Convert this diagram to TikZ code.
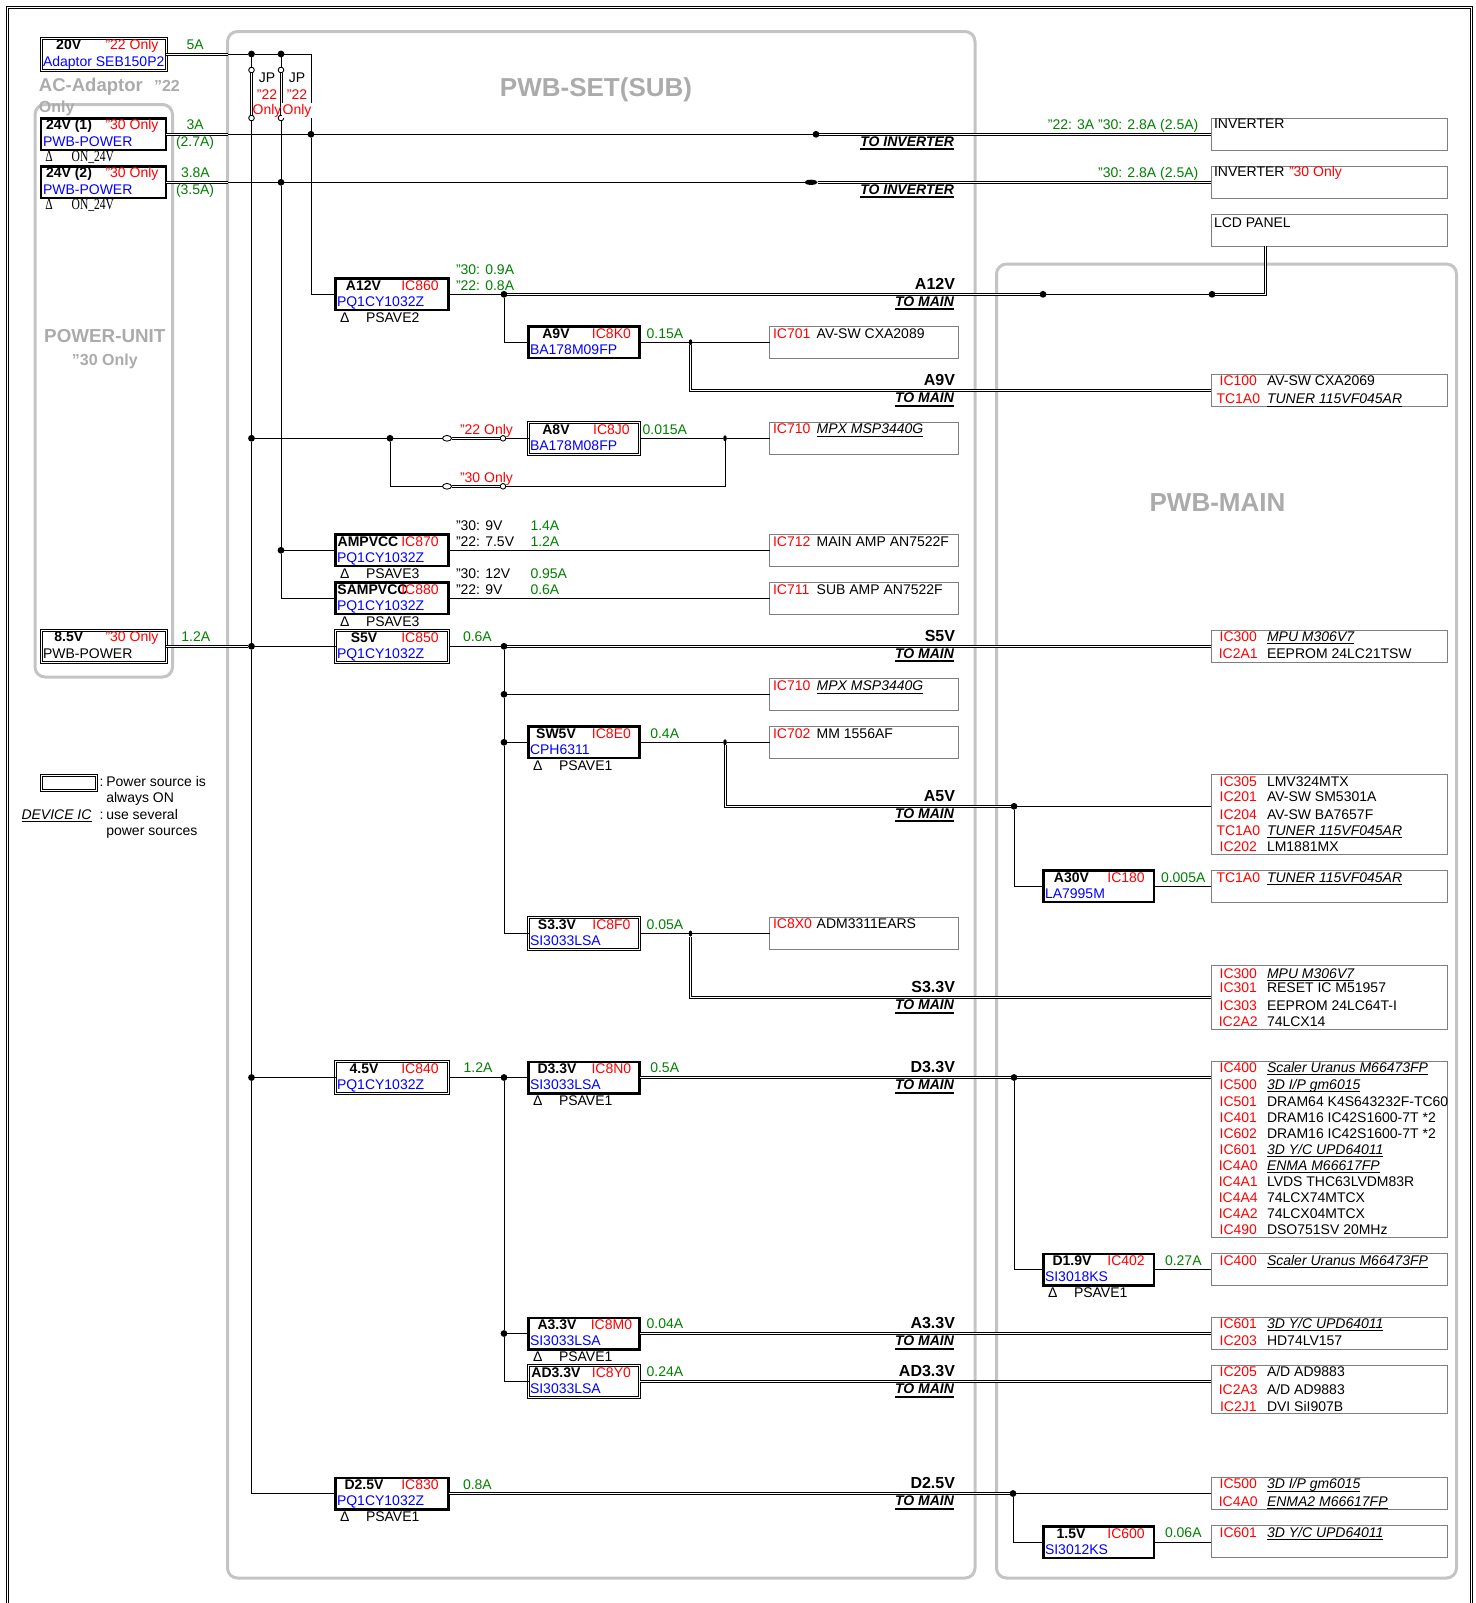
\documentclass[tikz,border=0pt]{standalone}
\usepackage{fontspec}
\usepackage{graphicx}
\usetikzlibrary{shapes.geometric}
\setmainfont{Liberation Sans}
\newfontfamily\onfont[FakeStretch=0.74]{Liberation Serif}
\definecolor{sgreen}{HTML}{008000}
\definecolor{panelgray}{HTML}{C4C4C4}
\definecolor{titlegray}{HTML}{ABABAB}
\definecolor{devgray}{HTML}{7F7F7F}
\newcount\txtc
\newcommand{\Txt}[4][]{\global\advance\txtc by 1 \node[lbl,#1] (t\the\txtc) at (#2,#3) {#4};}
\newcommand{\ux}[1]{\setbox0=\hbox{\itshape #1}\rlap{\rule[-1.5pt]{\wd0}{.5pt}}\box0}
\newcommand{\ubx}[1]{\setbox0=\hbox{\bfseries\itshape #1}\rlap{\rule[-2pt]{\wd0}{1pt}}\box0}
% #1 style, #2 name, #3 x, #4 w, #5 top, #6 volt, #7 volt centre offset, #8 ic, #9 part
\newcommand{\Reg}[9]{%
  \node[#1,minimum width=(#4-1)*.5pt] (#2) at ({#3+#4/2},{#5+16}) {};
  \Txt[ctr,bvolt]{{#3+#7}}{{#5+12}}{#6}
  \Txt[ctr,red]{{#3+#4*.745}}{{#5+12}}{#8}
  \Txt[blue]{{#3+2}}{{#5+28.3}}{#9}}
\newcommand{\Ps}[3]{%
  \Txt{{#1+5}}{{#2+44}}{Δ}
  \Txt{{#1+31}}{{#2+44}}{#3}}
\newcommand{\Dev}[5]{\node[devbox,minimum width=#3*.5pt,minimum height=#5*.5pt] (#1) at ({#2+#3/2},{#4+#5/2}) {};}
\newcommand{\RR}[3]{\Txt[ctr,red]{1238.3}{#1}{#2}\Txt{1267}{#1}{#3}}
\newcommand{\MR}[3]{\Txt[red]{773}{#1}{#2}\Txt{816.7}{#1}{#3}}
\newcommand{\Rail}[2]{%
  \Txt[anchor=base east,font=\fontsize{8}{9}\selectfont\bfseries]{955}{{#1-5}}{#2}
  \Txt[anchor=base east]{954}{{#1+12}}{\ubx{TO MAIN}}}
\newcommand{\OnLbl}[1]{%
  \Txt[font=\fontsize{7.8}{8}\selectfont\onfont]{45.5}{#1}{Δ}
  \Txt[font=\fontsize{7.8}{8}\selectfont\onfont]{71.7}{#1}{ON\_24V}}
\tikzset{
  lbl/.style={anchor=base west,inner sep=0pt,outer sep=0pt,font=\fontsize{7}{8}\selectfont},
  ctr/.style={anchor=base},
  bvolt/.style={font=\fontsize{7}{8}\selectfont\bfseries},
  gn/.style={text=sgreen},
  regbase/.style={rectangle,inner sep=0pt,outer sep=0pt},
  rega/.style={regbase,draw=black,line width=1.25pt,minimum height=15.75pt},
  regb/.style={regbase,draw=black,line width=.5pt,double=white,double distance=.5pt,minimum height=16pt},
  devbox/.style={rectangle,inner sep=0pt,outer sep=0pt,draw=devgray,line width=.65pt},
  panel/.style={draw=panelgray,line width=1.5pt,rounded corners=5pt},
  wire/.style={draw=black,line width=.5pt},
  dbl/.style={draw=black,line width=.5pt,double=white,double distance=.5pt},
  dotn/.style={circle,fill=black,inner sep=0pt,outer sep=0pt,minimum size=3.4pt},
  dots/.style={ellipse,fill=black,inner sep=0pt,outer sep=0pt,minimum width=1.8pt,minimum height=3pt},
  dotw/.style={ellipse,fill=black,inner sep=0pt,outer sep=0pt,minimum width=6.5pt,minimum height=2.6pt},
  ocirc/.style={circle,draw=black,fill=white,line width=.45pt,inner sep=0pt,outer sep=0pt,minimum size=2.8pt},
  ooval/.style={ellipse,draw=black,fill=white,line width=.45pt,inner sep=0pt,outer sep=0pt,minimum width=4.5pt,minimum height=2.8pt},
  gtitle/.style={text=titlegray},
}
\begin{document}
\begin{tikzpicture}[x=.5pt,y=-.5pt]
\useasboundingbox (0,0) rectangle (1476,1603);
% outer frame
\coordinate (fa) at (7.5,1603);\coordinate (fb) at (7.5,7.3);\coordinate (fc) at (1471,7.3);\coordinate (fd) at (1471,1603);
\draw[dbl] (fa) -- (fb) -- (fc) -- (fd);
% panels
\draw[panel] (227.5,31.5) rectangle (975,1578);
\draw[panel] (996.5,264) rectangle (1456.5,1578);
\draw[panel] (35,104.5) rectangle (172.5,677);
% panel titles
\Txt[ctr,gtitle,font=\fontsize{13}{14}\selectfont\bfseries]{596}{96}{PWB-SET(SUB)}
\Txt[ctr,gtitle,font=\fontsize{13}{14}\selectfont\bfseries]{1217.5}{511}{PWB-MAIN}
\Txt[ctr,gtitle,font=\fontsize{9.4}{10}\selectfont\bfseries]{104.8}{342}{POWER-UNIT}
\Txt[ctr,gtitle,font=\fontsize{8}{9}\selectfont\bfseries]{104.8}{365}{"30 Only}
\Txt[gtitle,font=\fontsize{9.25}{10}\selectfont\bfseries]{39}{91.7}{AC-Adaptor}
\Txt[gtitle,font=\fontsize{8}{9}\selectfont\bfseries]{154}{91.7}{"22}
\Txt[gtitle,font=\fontsize{8}{9}\selectfont\bfseries]{39}{112.7}{Only}
% sources
\node[regb,minimum width=62.5pt] (src20) at (103.5,54) {};
\Txt[ctr,bvolt]{68.7}{49}{20V}\Txt[ctr,red]{132}{49}{"22 Only}\Txt[blue]{43}{66}{Adaptor SEB150P2}
\node[rega,minimum width=62.5pt] (srca) at (103.5,134.3) {};
\Txt[ctr,bvolt]{69}{129}{24V (1)}\Txt[ctr,red]{132}{129}{"30 Only}\Txt[blue]{43}{146}{PWB-POWER}
\OnLbl{161.7}
\node[rega,minimum width=62.5pt] (srcb) at (103.5,182.3) {};
\Txt[ctr,bvolt]{69}{177}{24V (2)}\Txt[ctr,red]{132}{177}{"30 Only}\Txt[blue]{43}{194}{PWB-POWER}
\OnLbl{209.7}
\node[regb,minimum width=62.5pt] (srcc) at (103.5,646.3) {};
\Txt[ctr,bvolt]{68.8}{641}{8.5V}\Txt[ctr,red]{132}{641}{"30 Only}\Txt{43}{658}{PWB-POWER}
% regulators
\Reg{rega}{a12}{335}{114}{278.3}{A12V}{28.5}{IC860}{PQ1CY1032Z}
\Ps{335}{278.3}{PSAVE2}
\Reg{rega}{a9}{528}{112}{326.3}{A9V}{28}{IC8K0}{BA178M09FP}
\Reg{regb}{a8}{528}{112}{422.3}{A8V}{28}{IC8J0}{BA178M08FP}
\Reg{rega}{ampvcc}{335}{114}{534.3}{AMPVCC}{33}{IC870}{PQ1CY1032Z}
\Ps{335}{534.3}{PSAVE3}
\Reg{rega}{sampvcc}{335}{114}{582.3}{SAMPVCC}{37.5}{IC880}{PQ1CY1032Z}
\Ps{335}{582.3}{PSAVE3}
\Reg{regb}{s5}{335}{114}{630.3}{S5V}{29}{IC850}{PQ1CY1032Z}
\Reg{rega}{sw5}{528}{112}{726.3}{SW5V}{28}{IC8E0}{CPH6311}
\Ps{528}{726.3}{PSAVE1}
\Reg{regb}{s33}{528}{112}{917.5}{S3.3V}{29}{IC8F0}{SI3033LSA}
\Reg{regb}{v45}{335}{114}{1061.5}{4.5V}{29}{IC840}{PQ1CY1032Z}
\Reg{rega}{d33}{528}{112}{1061.5}{D3.3V}{29}{IC8N0}{SI3033LSA}
\Ps{528}{1061.5}{PSAVE1}
\Reg{rega}{a33}{528}{112}{1317.5}{A3.3V}{29}{IC8M0}{SI3033LSA}
\Ps{528}{1317.5}{PSAVE1}
\Reg{regb}{ad33}{528}{112}{1365.5}{AD3.3V}{28}{IC8Y0}{SI3033LSA}
\Reg{rega}{d25}{335}{114}{1477.5}{D2.5V}{29}{IC830}{PQ1CY1032Z}
\Ps{335}{1477.5}{PSAVE1}
\Reg{rega}{a30}{1043}{111.5}{870.3}{A30V}{28.5}{IC180}{LA7995M}
\Reg{rega}{d19}{1043}{111.5}{1253.5}{D1.9V}{29}{IC402}{SI3018KS}
\Ps{1043}{1253.5}{PSAVE1}
\Reg{rega}{v15}{1043}{111.5}{1526}{1.5V}{28}{IC600}{SI3012KS}
% middle devices
\Dev{ic701}{769.5}{189}{326.3}{32}\MR{338.5}{IC701}{AV-SW CXA2089}
\Dev{ic710a}{769.5}{189}{422.3}{32}\MR{433.5}{IC710}{\ux{MPX MSP3440G}}
\Dev{ic712}{769.5}{189}{534.3}{32}\MR{546.5}{IC712}{MAIN AMP AN7522F}
\Dev{ic711}{769.5}{189}{582.3}{32}\MR{594.5}{IC711}{SUB AMP AN7522F}
\Dev{ic710b}{769.5}{189}{678.3}{32}\MR{690.5}{IC710}{\ux{MPX MSP3440G}}
\Dev{ic702}{769.5}{189}{726.3}{32}\MR{738.3}{IC702}{MM 1556AF}
\Dev{ic8x0}{769.5}{189}{917.5}{32}\MR{928.5}{IC8X0}{ADM3311EARS}
% right devices
\Dev{inv1}{1211.3}{236}{118.3}{32}\Txt{1214}{128.5}{INVERTER}
\Dev{inv2}{1211.3}{236}{166.3}{32}\Txt{1214}{176.5}{INVERTER}\Txt[red]{1289}{176.5}{"30 Only}
\Dev{lcd}{1211.3}{236}{214.3}{32}\Txt{1214}{227.3}{LCD PANEL}
\Dev{ic100}{1211.3}{236}{374.3}{32}\RR{385}{IC100}{AV-SW CXA2069}\RR{403.7}{TC1A0}{\ux{TUNER 115VF045AR}}
\Dev{ic300a}{1211.3}{236}{630.3}{32}\RR{641}{IC300}{\ux{MPU M306V7}}\RR{658}{IC2A1}{EEPROM 24LC21TSW}
\Dev{ic305}{1211.3}{236}{774.3}{80}\RR{786}{IC305}{LMV324MTX}\RR{801}{IC201}{AV-SW SM5301A}\RR{819}{IC204}{AV-SW BA7657F}\RR{835.3}{TC1A0}{\ux{TUNER 115VF045AR}}\RR{851.3}{IC202}{LM1881MX}
\Dev{tc1a0}{1211.3}{236}{870.3}{32}\RR{882}{TC1A0}{\ux{TUNER 115VF045AR}}
\Dev{ic300b}{1211.3}{236}{965.5}{64}\RR{978}{IC300}{\ux{MPU M306V7}}\RR{992}{IC301}{RESET IC M51957}\RR{1010.3}{IC303}{EEPROM 24LC64T-I}\RR{1026.3}{IC2A2}{74LCX14}
\Dev{ic400a}{1211.3}{236}{1061.7}{176}
\RR{1072}{IC400}{\ux{Scaler Uranus M66473FP}}\RR{1089}{IC500}{\ux{3D I/P gm6015}}\RR{1106}{IC501}{DRAM64 K4S643232F-TC60}\RR{1122}{IC401}{DRAM16 IC42S1600-7T *2}\RR{1138}{IC602}{DRAM16 IC42S1600-7T *2}\RR{1154}{IC601}{\ux{3D Y/C UPD64011}}\RR{1170}{IC4A0}{\ux{ENMA M66617FP}}\RR{1186}{IC4A1}{LVDS THC63LVDM83R}\RR{1202}{IC4A4}{74LCX74MTCX}\RR{1218}{IC4A2}{74LCX04MTCX}\RR{1234}{IC490}{DSO751SV 20MHz}
\Dev{ic400b}{1211.3}{236}{1253.5}{32}\RR{1265}{IC400}{\ux{Scaler Uranus M66473FP}}
\Dev{ic601a}{1211.3}{236}{1317.5}{32}\RR{1328}{IC601}{\ux{3D Y/C UPD64011}}\RR{1345}{IC203}{HD74LV157}
\Dev{ic205}{1211.3}{236}{1365.5}{48}\RR{1376.7}{IC205}{A/D AD9883}\RR{1394}{IC2A3}{A/D AD9883}\RR{1411}{IC2J1}{DVI SiI907B}
\Dev{ic500}{1211.3}{236}{1477.5}{32}\RR{1488.7}{IC500}{\ux{3D I/P gm6015}}\RR{1506}{IC4A0}{\ux{ENMA2 M66617FP}}
\Dev{ic601b}{1211.3}{236}{1525.7}{32}\RR{1537}{IC601}{\ux{3D Y/C UPD64011}}
% current labels
\Txt[gn]{186.7}{49}{5A}
\Txt[gn]{186.7}{129.3}{3A}\Txt[gn]{176}{146.7}{(2.7A)}
\Txt[gn]{181}{177.3}{3.8A}\Txt[gn]{176}{194}{(3.5A)}
\Txt[gn]{181.4}{641}{1.2A}
\Txt[gn]{456}{274}{"30: 0.9A}\Txt[gn]{456}{290}{"22: 0.8A}
\Txt[gn]{646.7}{338.3}{0.15A}\Txt[gn]{642.7}{434.3}{0.015A}
\Txt{456}{530.3}{"30: 9V}\Txt{456}{546.3}{"22: 7.5V}\Txt[gn]{530.5}{530.3}{1.4A}\Txt[gn]{530.5}{546.3}{1.2A}
\Txt{456}{578.3}{"30: 12V}\Txt{456}{594.3}{"22: 9V}\Txt[gn]{530.5}{578.3}{0.95A}\Txt[gn]{530.5}{594.3}{0.6A}
\Txt[gn]{463}{641.5}{0.6A}\Txt[gn]{650.3}{738.3}{0.4A}\Txt[gn]{646.7}{929.5}{0.05A}
\Txt[gn]{463.7}{1072.5}{1.2A}\Txt[gn]{650.3}{1072.5}{0.5A}
\Txt[gn]{646.7}{1328.5}{0.04A}\Txt[gn]{646.7}{1376.5}{0.24A}\Txt[gn]{463}{1489.5}{0.8A}
\Txt[gn]{1161}{882}{0.005A}\Txt[gn]{1165}{1265}{0.27A}\Txt[gn]{1165}{1537}{0.06A}
\Txt[gn,anchor=base east]{1198.3}{129.3}{"22: 3A "30: 2.8A (2.5A)}
\Txt[gn,anchor=base east]{1198.3}{177.3}{"30: 2.8A (2.5A)}
\Txt[red]{460}{434}{"22 Only}\Txt[red]{460}{482}{"30 Only}
% rail labels
\Txt[anchor=base east]{954}{146}{\ubx{TO INVERTER}}
\Txt[anchor=base east]{954}{194}{\ubx{TO INVERTER}}
\Rail{294.3}{A12V}\Rail{390.8}{A9V}\Rail{646.3}{S5V}\Rail{806.3}{A5V}\Rail{997.5}{S3.3V}\Rail{1077.5}{D3.3V}\Rail{1333.5}{A3.3V}\Rail{1381.5}{AD3.3V}\Rail{1493.5}{D2.5V}
% legend
\node[regb,minimum width=27.5pt,minimum height=7.5pt] (lgbox) at (68.5,782.5) {};
\Txt{99.6}{786}{:}\Txt{106.3}{786}{Power source is}\Txt{106.3}{802}{always ON}
\Txt{21.5}{819}{\ux{DEVICE IC}}\Txt{99.6}{819}{:}\Txt{106.3}{819}{use several}\Txt{106.3}{835}{power sources}
% junctions
\node[dotn] (j20a) at (251.5,54) {};
\node[dotn] (j20b) at (281,54) {};
\node[ocirc] (jpa1) at (251.5,70) {};
\node[ocirc] (jpa2) at (251.5,118) {};
\node[ocirc] (jpb1) at (281,70) {};
\node[ocirc] (jpb2) at (281,118) {};
\node[dotn] (j24a) at (311,134.3) {};
\node[dotn] (j24b) at (281,182.3) {};
\node[dotn] (jinv1) at (816,134.3) {};
\node[dotw] (jinv2) at (811,182.3) {};
\node[dotn] (ja12) at (504,294.3) {};
\node[dotn] (jl1) at (1043,294.3) {};
\node[dotn] (jl2) at (1212,294.3) {};
\node[dots] (ja9) at (690.5,342.3) {};
\node[dotn] (j8a) at (251.5,438.3) {};
\node[dotn] (j8b) at (390,438.3) {};
\node[ooval] (ov1) at (447,438.3) {};
\node[ocirc] (oc1) at (503,438.3) {};
\node[ooval] (ov2) at (447,486.3) {};
\node[ocirc] (oc2) at (503,486.3) {};
\node[dots] (j8c) at (725,438.3) {};
\node[dotn] (jamp) at (281,550.3) {};
\node[dotn] (j85) at (251.5,646.3) {};
\node[dotn] (js5) at (504,646.3) {};
\node[dotn] (js5b) at (504,694.3) {};
\node[dotn] (js5c) at (504,742.3) {};
\node[dots] (jsw) at (725,742.3) {};
\node[dotn] (ja5) at (1014,806.3) {};
\node[dots] (js33) at (690.5,933.5) {};
\node[dotn] (j45) at (251.5,1077.5) {};
\node[dotn] (jd) at (504,1077.5) {};
\node[dotn] (jd2) at (504,1333.5) {};
\node[dotn] (jd33) at (1014,1077.5) {};
\node[dotn] (jd25) at (1013,1493.5) {};
\coordinate (c311) at (311,54);
\coordinate (c20) at (228,54);
\coordinate (c24a) at (228,134.3);
\coordinate (c24b) at (228,182.3);
\coordinate (cin1) at (390,486.3);
\coordinate (cin2) at (725,486.3);
\coordinate (clcd) at (1265,294.3);
\coordinate (cbot) at (251.5,1493.5);
% connectors - supply rails
\draw[dbl] (src20.east) -- (c20);
\draw[wire] (c20) -- (j20a.west);
\draw[wire] (j20a.east) -- (j20b.west);
\draw[wire] (j20b.east) -- (c311) -- (j24a.north);
\draw[wire] (j24a.south) |- (a12.west);
\draw[wire] (j20a.south) -- (jpa1.north);
\draw[dbl] (jpa1.south) -- (jpa2.north);
\draw[wire] (jpa2.south) -- (j8a.north);
\draw[wire] (j8a.south) -- (j85.north);
\draw[wire] (j85.south) -- (j45.north);
\draw[wire] (j45.south) -- (cbot) -- (d25.west);
\draw[wire] (j20b.south) -- (jpb1.north);
\draw[dbl] (jpb1.south) -- (jpb2.north);
\draw[wire] (jpb2.south) -- (j24b.north);
\draw[wire] (j24b.south) -- (jamp.north);
\draw[wire] (jamp.south) |- (sampvcc.west);
\draw[dbl] (srca.east) -- (c24a);
\draw[wire] (c24a) -- (j24a.west);
\draw[wire] (j24a.east) -- (jinv1.west);
\draw[dbl] (jinv1.east) -- (inv1.west);
\draw[dbl] (srcb.east) -- (c24b);
\draw[wire] (c24b) -- (j24b.west);
\draw[wire] (j24b.east) -- (jinv2.west);
\draw[dbl] (jinv2.east) -- (inv2.west);
% A12V
\draw[wire] (a12.east) -- (ja12.west);
\draw[dbl] (ja12.east) -- (jl1.west);
\draw[wire] (jl1.east) -- (jl2.west);
\draw[dbl] (jl2.east) -- (clcd) -- (lcd.south -| clcd);
\draw[wire] (ja12.south) |- (a9.west);
\draw[wire] (a9.east) -- (ja9.west);
\draw[wire] (ja9.east) -- (ic701.west);
\draw[dbl] (ja9.south) |- (ic100.west);
% A8V
\draw[wire] (j8a.east) -- (j8b.west);
\draw[wire] (j8b.east) -- (ov1.west);
\draw[dbl] (ov1.east) -- (oc1.west);
\draw[wire] (oc1.east) -- (a8.west);
\draw[wire] (j8b.south) -- (cin1) -- (ov2.west);
\draw[dbl] (ov2.east) -- (oc2.west);
\draw[wire] (oc2.east) -- (cin2) -- (j8c.south);
\draw[wire] (a8.east) -- (j8c.west);
\draw[wire] (j8c.east) -- (ic710a.west);
% amps
\draw[wire] (jamp.east) -- (ampvcc.west);
\draw[wire] (ampvcc.east) -- (ic712.west);
\draw[wire] (sampvcc.east) -- (ic711.west);
% S5V
\draw[dbl] (srcc.east) -- (j85.west);
\draw[wire] (j85.east) -- (s5.west);
\draw[wire] (s5.east) -- (js5.west);
\draw[dbl] (js5.east) -- (ic300a.west);
\draw[wire] (js5.south) -- (js5b.north);
\draw[wire] (js5b.east) -- (ic710b.west);
\draw[wire] (js5b.south) -- (js5c.north);
\draw[wire] (js5c.east) -- (sw5.west);
\draw[wire] (js5c.south) |- (s33.west);
\draw[wire] (sw5.east) -- (jsw.west);
\draw[wire] (jsw.east) -- (ic702.west);
\draw[dbl] (jsw.south) |- (ja5.west);
\draw[wire] (ja5.east) -- (ic305.west |- ja5);
\draw[wire] (ja5.south) |- (a30.west);
\draw[wire] (a30.east) -- (tc1a0.west);
\draw[wire] (s33.east) -- (js33.west);
\draw[wire] (js33.east) -- (ic8x0.west);
\draw[dbl] (js33.south) |- (ic300b.west);
% 4.5V
\draw[wire] (j45.east) -- (v45.west);
\draw[wire] (v45.east) -- (jd.west);
\draw[wire] (jd.east) -- (d33.west);
\draw[dbl] (d33.east) -- (jd33.west);
\draw[dbl] (jd33.east) -- (ic400a.west |- jd33);
\draw[wire] (jd33.south) |- (d19.west);
\draw[wire] (d19.east) -- (ic400b.west |- d19.east);
\draw[wire] (jd.south) -- (jd2.north);
\draw[wire] (jd2.east) -- (a33.west);
\draw[wire] (jd2.south) |- (ad33.west);
\draw[dbl] (a33.east) -- (ic601a.west |- a33.east);
\draw[dbl] (ad33.east) -- (ic205.west |- ad33.east);
% D2.5V
\draw[dbl] (d25.east) -- (jd25.west);
\draw[wire] (jd25.east) -- (ic500.west |- jd25);
\draw[wire] (jd25.south) |- (v15.west);
\draw[wire] (v15.east) -- (ic601b.west |- v15.east);
% JP labels
\Txt[ctr]{267}{82.7}{JP}\Txt[ctr,red]{267}{99.3}{"22}\Txt[ctr,red]{267}{114.3}{Only}
\Txt[ctr]{297}{82.7}{JP}\Txt[ctr,red]{297}{99.3}{"22}
\Txt[ctr,red,fill=white,inner sep=.5pt]{297}{114.3}{Only}
\end{tikzpicture}
\end{document}
